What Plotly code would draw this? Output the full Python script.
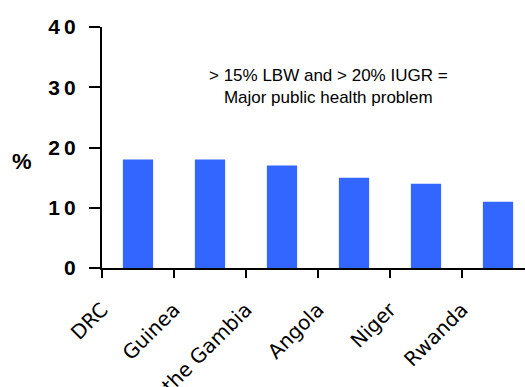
import plotly.graph_objects as go

# Low birth weight prevalence by country (%)
countries = ["DRC", "Guinea", "the Gambia", "Angola", "Niger", "Rwanda"]
lbw_pct = [18, 18, 17, 15, 14, 11]
y_ticks = [0, 10, 20, 30, 40]
y_tick_text = ["0", "1\u20090", "2\u20090", "3\u20090", "4\u20090"]

idx = list(range(len(countries)))

fig = go.Figure(
    go.Bar(
        x=idx,
        y=lbw_pct,
        width=0.42,
        marker=dict(color="#3366FF", line=dict(width=0)),
    )
)

fig.update_layout(
    width=525,
    height=387,
    margin=dict(l=102, r=0, t=27, b=119),
    plot_bgcolor="white",
    paper_bgcolor="white",
    showlegend=False,
    font=dict(family="Liberation Sans, Arial, sans-serif", color="black"),
    xaxis=dict(
        range=[-0.5, 5.375],
        tickvals=[i - 0.5 for i in idx],
        ticktext=countries,
        tickangle=-45,
        ticks="outside",
        ticklen=8,
        tickwidth=2,
        tickcolor="black",
        showline=True,
        linecolor="black",
        linewidth=2,
        showgrid=False,
        zeroline=False,
        automargin=False,
        ticklabelstandoff=12,
        tickfont=dict(size=20, family="DejaVu Sans, Verdana, sans-serif"),
    ),
    yaxis=dict(
        range=[0, 40],
        tickvals=y_ticks,
        ticktext=y_tick_text,
        ticks="outside",
        ticklen=11,
        tickwidth=2,
        tickcolor="black",
        showline=True,
        linecolor="black",
        linewidth=2,
        showgrid=False,
        zeroline=False,
        automargin=False,
        ticklabelstandoff=9,
        tickfont=dict(size=21, weight="bold"),
    ),
    annotations=[
        dict(
            text="%",
            xref="paper", yref="paper",
            x=-0.19, y=0.44,
            xanchor="center", yanchor="middle",
            showarrow=False,
            font=dict(size=22, weight="bold"),
        ),
        dict(
            text="> 15% LBW and > 20% IUGR =<br>Major public health problem",
            xref="paper", yref="paper",
            x=0.536, y=0.755,
            xanchor="center", yanchor="middle",
            showarrow=False,
            align="center",
            font=dict(size=17),
        ),
    ],
)

fig.write_html("out.html")
